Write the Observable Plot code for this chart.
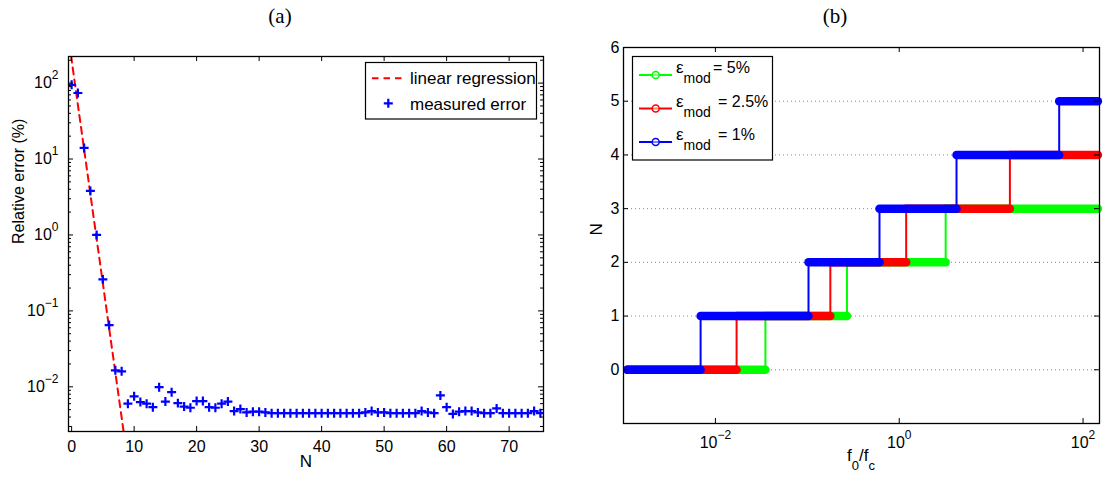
<!DOCTYPE html>
<html><head><meta charset="utf-8">
<script src="https://cdn.jsdelivr.net/npm/d3@7"></script>
<script src="https://cdn.jsdelivr.net/npm/@observablehq/plot@0.6"></script>
<style>
body{margin:0;background:#fff;}
#wrap{position:relative;width:1103px;height:478px;overflow:hidden;background:#fff;}
.title{position:absolute;top:4px;width:100px;text-align:center;font-family:"Liberation Serif","DejaVu Serif",serif;font-size:21px;color:#000;}
#a,#b{position:absolute;top:0}
</style></head><body>
<div id="wrap">
<div class="title" style="left:230px">(a)</div>
<div class="title" style="left:785px">(b)</div>
<div id="a" style="left:0px"></div>
<div id="b" style="left:560px"></div>
</div>
<script>
// ---------- Panel (a) data ----------
const errN = [0,1,2,3,4,5,6,7,8,9,10,11,12,13,14,15,16,17,18,19,20,21,22,23,24,25,26,27,28,29,30,31,32,33,34,35,36,37,38,39,40,41,42,43,44,45,46,47,48,49,50,51,52,53,54,55,56,57,58,59,60,61,62,63,64,65,66,67,68,69,70,71,72,73,74,75];
const errVal = [95,74,14,3.8,1.0,0.26,0.065,0.0165,0.016,0.006,0.0075,0.0063,0.006,0.0054,0.0099,0.0064,0.0085,0.0061,0.0055,0.0053,0.0065,0.0065,0.0054,0.0053,0.006,0.0064,0.0048,0.0051,0.0046,0.0047,0.0047,0.0046,0.0045,0.0045,0.0045,0.0045,0.0045,0.0045,0.0045,0.0045,0.0045,0.0045,0.0045,0.0045,0.0045,0.0045,0.0045,0.0046,0.0048,0.0046,0.0046,0.0045,0.0045,0.0045,0.0045,0.0045,0.0048,0.0046,0.0045,0.0077,0.0054,0.0044,0.0047,0.0048,0.0048,0.0046,0.0045,0.0045,0.0052,0.0045,0.0045,0.0045,0.0045,0.0045,0.0048,0.0045];
const regN = [-0.1, 8.4];
const regVal = [230, 0.0023];
const aLegend = ["linear regression", "measured error"];
const aXTicks = [0,10,20,30,40,50,60,70];
const aYMajor = [1e-2,1e-1,1,10,100];
const aYMinor = [3e-3,4e-3,5e-3,6e-3,7e-3,8e-3,9e-3,2e-2,3e-2,4e-2,5e-2,6e-2,7e-2,8e-2,9e-2,0.2,0.3,0.4,0.5,0.6,0.7,0.8,0.9,2,3,4,5,6,7,8,9,20,30,40,50,60,70,80,90,200];

// ---------- Panel (b) data ----------
const epsNames = ["5%", "2.5%", "1%"];
const breaks5 = [0.035, 0.27, 3.2];
const breaks25 = [0.017, 0.178, 1.19, 16];
const breaks1 = [0.0069, 0.103, 0.61, 4.2, 55];
const fStart = 0.0011, fEnd = 145;
const bXTicks = [1e-2, 1, 1e2];
const bYTicks = [0,1,2,3,4,5,6];
const bGrid = [0,1,2,3,4,5];

const FONT = "'Liberation Sans', Arial, Helvetica, sans-serif";
const H = 478;

function supify(svg){
  d3.select(svg).selectAll("text").each(function(){
    const t = this.textContent;
    if (t.indexOf("^") >= 0) {
      const parts = t.split("^");
      const s = d3.select(this); s.text(null);
      s.append("tspan").text(parts[0]);
      s.append("tspan").attr("dy", -9).attr("font-size", "12px").text(parts[1]);
    }
  });
}
const expFmt = d => "10^" + String(Math.round(Math.log10(d))).replace("-", "\u2212");

// ---------- Panel (a) ----------
const WA = 555;
const mA = {top:56, right:12, bottom:47, left:68};
const fwA = WA - mA.left - mA.right, fhA = H - mA.top - mA.bottom;
const errData = errN.map((n,i)=>({n, v: errVal[i]}));
const regData = regN.map((n,i)=>({n, v: regVal[i]}));

const chartA = Plot.plot({
  width: WA, height: H,
  marginTop: mA.top, marginRight: mA.right, marginBottom: mA.bottom, marginLeft: mA.left,
  x: {type: "linear", domain: [-0.5, 75.5]},
  y: {type: "log", domain: [0.00258, 224]},
  style: {fontFamily: FONT, fontSize: "16px", color: "#000", background: "transparent", overflow: "visible"},
  marks: [
    Plot.line(regData, {x: "n", y: "v", stroke: "#ff0000", strokeWidth: 2, strokeDasharray: "7,5", clip: true}),
    Plot.dot(errData, {x: "n", y: "v", symbol: "plus", r: 3, stroke: "#0000ff", strokeWidth: 2.2, clip: true}),
    Plot.tickX(aXTicks, {x: d=>d, insetTop: fhA-5, stroke: "#000"}),
    Plot.tickX(aXTicks, {x: d=>d, insetBottom: fhA-5, stroke: "#000"}),
    Plot.tickY(aYMajor, {y: d=>d, insetRight: fwA-5, stroke: "#000"}),
    Plot.tickY(aYMajor, {y: d=>d, insetLeft: fwA-5, stroke: "#000"}),
    Plot.tickY(aYMinor, {y: d=>d, insetRight: fwA-3, stroke: "#000"}),
    Plot.tickY(aYMinor, {y: d=>d, insetLeft: fwA-3, stroke: "#000"}),
    Plot.frame({stroke: "#000", strokeWidth: 1.3}),
    Plot.axisX({ticks: aXTicks, tickSize: 0, tickPadding: 9, label: null}),
    Plot.axisY({ticks: aYMajor, tickSize: 0, tickPadding: 10, tickFormat: expFmt, label: null}),
    Plot.text(["N"], {frameAnchor: "bottom", lineAnchor: "middle", dy: 30, fontSize: 17}),
    Plot.text(["Relative error (%)"], {frameAnchor: "left", rotate: -90, dx: -50, fontSize: 16})
  ]
});
supify(chartA);
{
  const g = d3.select(chartA).append("g").attr("font-family", FONT).attr("font-size", 17).attr("text-anchor", "start");
  g.append("rect").attr("x", 365.5).attr("y", 62.5).attr("width", 171).attr("height", 56.5)
    .attr("fill", "#fff").attr("stroke", "#000").attr("stroke-width", 1.2);
  g.append("line").attr("x1", 372).attr("x2", 405).attr("y1", 78.3).attr("y2", 78.3)
    .attr("stroke", "#ff0000").attr("stroke-width", 2).attr("stroke-dasharray", "6.5,5");
  g.append("path").attr("d", "M383.8,103.3H392.8M388.3,98.8V107.8").attr("stroke", "#0000ff").attr("stroke-width", 2.2);
  g.append("text").attr("text-anchor", "start").attr("x", 410).attr("y", 78.3).attr("dy", "0.35em").text(aLegend[0]);
  g.append("text").attr("text-anchor", "start").attr("x", 410).attr("y", 104).attr("dy", "0.35em").text(aLegend[1]);
}
document.getElementById("a").appendChild(chartA);

// ---------- Panel (b) ----------
const WB = 543;
const mB = {top:47, right:4, bottom:55, left:63};
const fwB = WB - mB.left - mB.right, fhB = H - mB.top - mB.bottom;

function segs(breaks){
  const pts = [fStart, ...breaks, fEnd];
  const h = [], v = [];
  for (let i = 0; i < pts.length-1; i++) h.push({f0: pts[i], f1: pts[i+1], n: i});
  breaks.forEach((b,i)=> v.push({f: b, n0: i, n1: i+1}));
  return {h, v};
}
const series = [
  {s: segs(breaks5), c: "#00ff00"},
  {s: segs(breaks25), c: "#ff0000"},
  {s: segs(breaks1), c: "#0000ff"}
];
const stepMarks = [];
series.forEach(({s, c}) => {
  stepMarks.push(Plot.link(s.v, {x1: "f", x2: "f", y1: "n0", y2: "n1", stroke: c, strokeWidth: 2}));
  stepMarks.push(Plot.link(s.h, {x1: "f0", x2: "f1", y1: "n", y2: "n", stroke: c, strokeWidth: 8.5, strokeLinecap: "round"}));
});

const chartB = Plot.plot({
  width: WB, height: H,
  marginTop: mB.top, marginRight: mB.right, marginBottom: mB.bottom, marginLeft: mB.left,
  x: {type: "log", domain: [1e-3, 151]},
  y: {type: "linear", domain: [-1, 6]},
  style: {fontFamily: FONT, fontSize: "16px", color: "#000", background: "transparent", overflow: "visible"},
  marks: [
    Plot.ruleY(bGrid, {y: d=>d, stroke: "#888", strokeDasharray: "1,3", strokeWidth: 1}),
    ...stepMarks,
    Plot.tickX(bXTicks, {x: d=>d, insetTop: fhB-5, stroke: "#000"}),
    Plot.tickX(bXTicks, {x: d=>d, insetBottom: fhB-5, stroke: "#000"}),
    Plot.tickY(bYTicks, {y: d=>d, insetRight: fwB-5, stroke: "#000"}),
    Plot.tickY(bYTicks, {y: d=>d, insetLeft: fwB-5, stroke: "#000"}),
    Plot.frame({stroke: "#000", strokeWidth: 1.3}),
    Plot.axisX({ticks: bXTicks, tickSize: 0, tickPadding: 13, tickFormat: expFmt, label: null}),
    Plot.axisY({ticks: bYTicks, tickSize: 0, tickPadding: 4, tickFormat: d=>String(d), label: null}),
    Plot.text(["N"], {frameAnchor: "left", rotate: -90, dx: -27, fontSize: 17})
  ]
});
supify(chartB);
{
  const svg = d3.select(chartB);
  // x label f0/fc
  const xl = svg.append("text").attr("text-anchor", "start").attr("font-family", FONT).attr("font-size", 17).attr("x", 287).attr("y", 461);
  xl.append("tspan").text("f");
  xl.append("tspan").attr("dy", 9).attr("font-size", 13).text("0");
  xl.append("tspan").attr("dy", -9).text("/f");
  xl.append("tspan").attr("dy", 9).attr("font-size", 13).text("c");
  // legend
  const g = svg.append("g").attr("font-family", FONT).attr("font-size", 16).attr("text-anchor", "start");
  g.append("rect").attr("x", 72.5).attr("y", 56.5).attr("width", 140).attr("height", 103.5)
    .attr("fill", "#fff").attr("stroke", "#000").attr("stroke-width", 1.2);
  const rows = [75, 108.5, 142];
  const cols = ["#00ff00", "#ff0000", "#0000ff"];
  const eqX = [153, 158, 158];
  rows.forEach((y, i) => {
    g.append("line").attr("x1", 79).attr("x2", 112).attr("y1", y).attr("y2", y).attr("stroke", cols[i]).attr("stroke-width", 2);
    g.append("circle").attr("cx", 95.7).attr("cy", y).attr("r", 3.5).attr("fill", "#fff").attr("fill-opacity", 0.5).attr("stroke", cols[i]).attr("stroke-width", 1.5);
    const t = g.append("text").attr("text-anchor", "start").attr("x", 116).attr("y", y - 2);
    t.append("tspan").attr("font-size", 17).text("\u03b5");
    t.append("tspan").attr("dy", 10).attr("font-size", 14).text("mod");
    g.append("text").attr("text-anchor", "start").attr("x", eqX[i]).attr("y", y - 2).text("= " + epsNames[i]);
  });
}
document.getElementById("b").appendChild(chartB);
</script>
</body></html>
